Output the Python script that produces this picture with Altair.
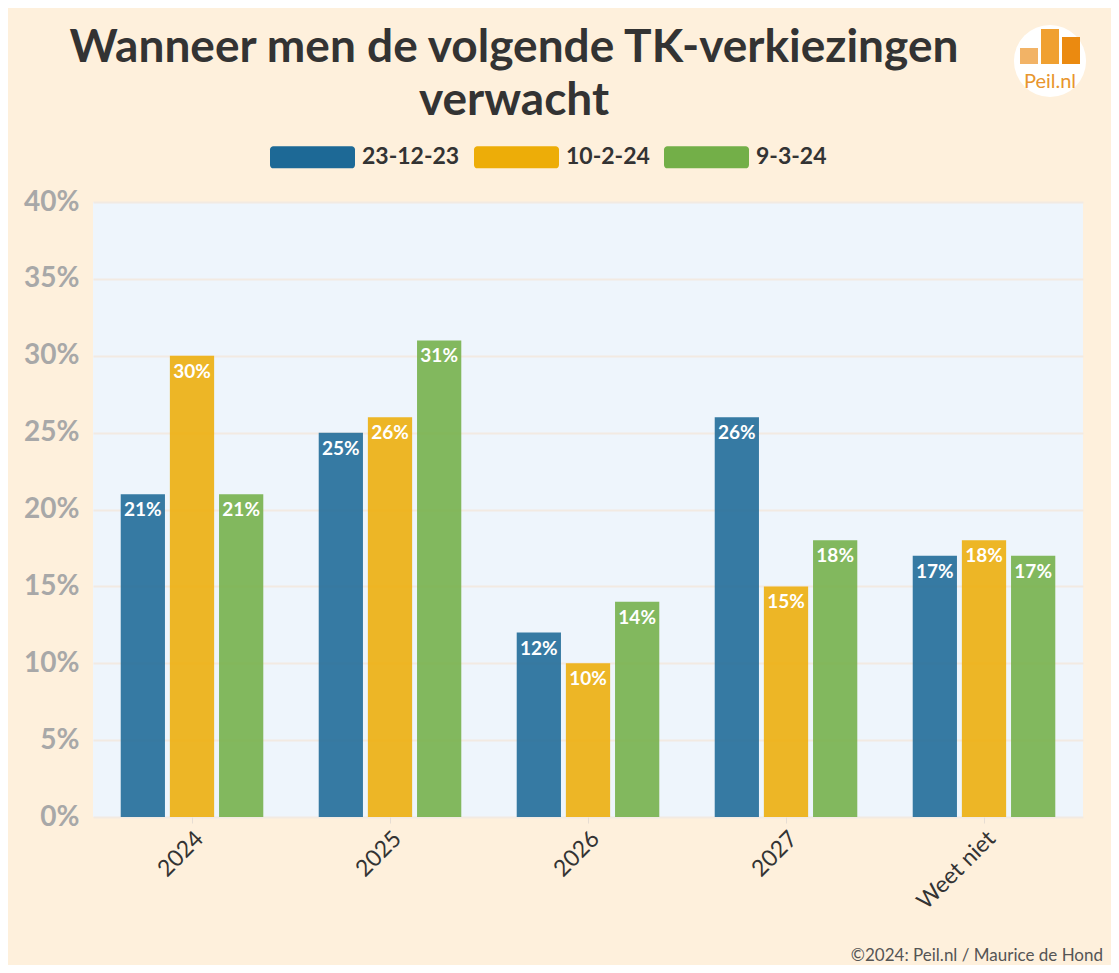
import altair as alt
import pandas as pd

categories = ["2024", "2025", "2026", "2027", "Weet niet"]
series = ["23-12-23", "10-2-24", "9-3-24"]
values_231223 = [21, 25, 12, 26, 17]
values_10224 = [30, 26, 10, 15, 18]
values_9324 = [21, 31, 14, 18, 17]
colors = ["#1D6996", "#EDAD08", "#73AF48"]
y_ticks = [0, 5, 10, 15, 20, 25, 30, 35, 40]

rows = []
for s, vals in zip(series, [values_231223, values_10224, values_9324]):
    for c, v in zip(categories, vals):
        rows.append({"cat": c, "serie": s, "v": v})
df = pd.DataFrame(rows)

FONT = "Lato"
W, H = 990, 615

swatch = ("M-0.92,-0.26 L0.92,-0.26 A0.08,0.08 0 0 1 1,-0.18 L1,0.18 "
          "A0.08,0.08 0 0 1 0.92,0.26 L-0.92,0.26 A0.08,0.08 0 0 1 -1,0.18 "
          "L-1,-0.18 A0.08,0.08 0 0 1 -0.92,-0.26 Z")

base = alt.Chart(df).encode(
    x=alt.X("cat:N", sort=categories, title=None,
            scale=alt.Scale(paddingInner=0.28, paddingOuter=0.14),
            axis=alt.Axis(labelAngle=-45, labelFontSize=23, labelFont=FONT,
                          labelColor="#333333", domain=False, ticks=True,
                          tickColor="#E6DDD3", tickSize=6, labelPadding=4)),
    xOffset=alt.XOffset("serie:N", sort=series,
                        scale=alt.Scale(paddingInner=0.1, paddingOuter=0)),
)

bars = base.mark_bar(opacity=0.88).encode(
    y=alt.Y("v:Q", title=None,
            scale=alt.Scale(domain=[0, 40]),
            axis=alt.Axis(values=y_ticks, labelExpr="datum.value + '%'",
                          labelFontSize=28, labelFont=FONT, labelFontWeight="bold",
                          labelColor="#A8A8A8", domain=False, ticks=False,
                          labelPadding=14, gridColor="#F2EAE2", gridWidth=2)),
    color=alt.Color("serie:N", sort=series,
                    scale=alt.Scale(domain=series, range=colors),
                    legend=alt.Legend(title=None, orient="none", direction="horizontal",
                                      legendX=177, legendY=-87.5,
                                      symbolType=swatch, symbolSize=7225,
                                      symbolOpacity=1, symbolStrokeWidth=0,
                                      labelFont=FONT, labelFontSize=23,
                                      labelFontWeight="bold", labelColor="#333333",
                                      labelOffset=7, columnPadding=14)),
)

labels = base.mark_text(baseline="top", dy=7, color="white", font=FONT,
                        fontWeight="bold", fontSize=19).transform_calculate(
    lab="datum.v + '%'"
).encode(
    y=alt.Y("v:Q"),
    text="lab:N",
)

one = pd.DataFrame({"a": [0]})
logo_circle = alt.Chart(one).mark_point(filled=True, color="white", opacity=1,
                                        size=5200, shape="circle").encode(
    x=alt.value(957), y=alt.value(-141))
logo_b1 = alt.Chart(one).mark_rect(color="#F2B366").encode(
    x=alt.value(927), x2=alt.value(945), y=alt.value(-154), y2=alt.value(-138))
logo_b2 = alt.Chart(one).mark_rect(color="#F0A030").encode(
    x=alt.value(948), x2=alt.value(966), y=alt.value(-173), y2=alt.value(-138))
logo_b3 = alt.Chart(one).mark_rect(color="#EB8A10").encode(
    x=alt.value(969), x2=alt.value(987), y=alt.value(-165), y2=alt.value(-138))
logo_text = alt.Chart(one).mark_text(text="Peil.nl", color="#E8962E", font=FONT,
                                     fontSize=20, baseline="middle").encode(
    x=alt.value(957), y=alt.value(-120))
footer = alt.Chart(one).mark_text(text="©2024: Peil.nl / Maurice de Hond",
                                  color="#555555", font=FONT, fontSize=17,
                                  align="right", baseline="middle").encode(
    x=alt.value(1010), y=alt.value(754))

chart = alt.layer(bars, labels, logo_circle, logo_b1, logo_b2, logo_b3,
                  logo_text, footer).properties(
    width=W, height=H,
    title=alt.TitleParams(text=["Wanneer men de volgende TK-verkiezingen", "verwacht"],
                          anchor="middle", dx=-74, fontSize=46, font=FONT,
                          fontWeight="bold", color="#333333", lineHeight=53,
                          offset=-100),
    background="#FEF0DC",
    padding={"left": 85, "top": 194, "right": 28, "bottom": 148},
    autosize=alt.AutoSizeParams(type="none"),
).configure_view(fill="#EEF5FC", stroke=None)

chart.save("out.html", embed_options={"renderer": "svg", "actions": False})
